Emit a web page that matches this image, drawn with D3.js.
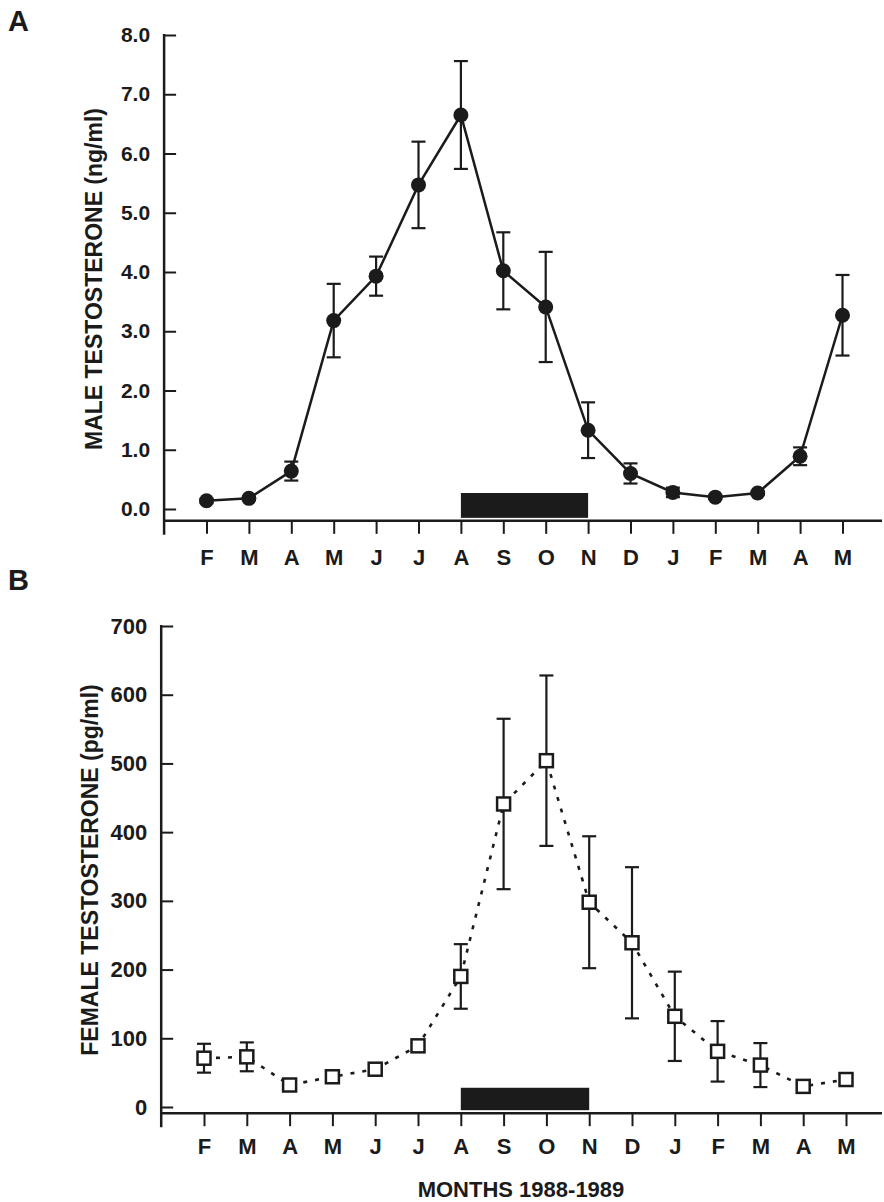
<!DOCTYPE html>
<html>
<head>
<meta charset="utf-8">
<script src="https://cdn.jsdelivr.net/npm/d3@7"></script>
<style>
  body { margin: 0; background: #fff; }
  svg { display: block; }
</style>
</head>
<body>
<div id="chart"></div>
<script>
// months of the study, Feb 1988 - May 1989
const months = ["F","M","A","M","J","J","A","S","O","N","D","J","F","M","A","M"];

// panel A: male testosterone (ng/ml), mean and SE
const maleMean = [0.14, 0.18, 0.64, 3.18, 3.93, 5.47, 6.65, 4.02, 3.41, 1.33, 0.60, 0.28, 0.20, 0.27, 0.89, 3.27];
const maleErr  = [0.03, 0.03, 0.16, 0.62, 0.33, 0.73, 0.91, 0.65, 0.93, 0.47, 0.17, 0.08, 0.03, 0.03, 0.15, 0.68];
const maleTicks = [0, 1, 2, 3, 4, 5, 6, 7, 8];

// panel B: female testosterone (pg/ml), mean and SE
const femaleMean = [71, 73, 32, 44, 55, 89, 190, 441, 504, 298, 239, 132, 81, 61, 30, 40];
const femaleErr  = [21, 21, 5, 5, 5, 6, 47, 124, 124, 96, 110, 65, 44, 32, 5, 5];
const femaleTicks = [0, 100, 200, 300, 400, 500, 600, 700];

// black bar (breeding season) from A to N, and its top in each panel's units
const barMonths = [6, 9];
const maleBarTop = 0.27;
const femaleBarTop = 28;

const ink = "#1b1b1b";
const font = "'Liberation Sans', Arial, sans-serif";

const svg = d3.select("#chart").append("svg")
  .attr("width", 884)
  .attr("height", 1202);

function drawPanel(opt) {
  const g = svg.append("g");
  const x = opt.x, y = opt.y;
  const axisY = y(opt.axisValue);
  const x0 = x(-1);

  // y axis, ticks point inward
  const yAxis = d3.axisLeft(y)
    .tickValues(opt.ticks)
    .tickFormat(opt.fmt)
    .tickSize(-12)
    .tickPadding(14);
  const ya = g.append("g")
    .attr("transform", `translate(${x0},0)`)
    .call(yAxis);
  ya.select(".domain").remove();
  ya.selectAll(".tick line").attr("stroke", ink).attr("stroke-width", 2);
  ya.selectAll(".tick text")
    .attr("fill", ink)
    .attr("font-family", font)
    .attr("font-weight", "bold")
    .attr("font-size", opt.tickFont);

  // x axis with month letters
  const xAxis = d3.axisBottom(x)
    .tickValues(d3.range(months.length))
    .tickFormat(i => months[i])
    .tickSize(13)
    .tickPadding(opt.monthPad);
  const xa = g.append("g")
    .attr("transform", `translate(0,${axisY})`)
    .call(xAxis);
  xa.select(".domain").remove();
  xa.selectAll(".tick line").attr("stroke", ink).attr("stroke-width", 2);
  xa.selectAll(".tick text")
    .attr("fill", ink)
    .attr("font-family", font)
    .attr("font-weight", "bold")
    .attr("font-size", 22);

  // axis lines
  g.append("line")
    .attr("x1", x0).attr("x2", x0)
    .attr("y1", y(opt.ticks[opt.ticks.length - 1]) - 1)
    .attr("y2", axisY + 14)
    .attr("stroke", ink).attr("stroke-width", 2.5);
  g.append("line")
    .attr("x1", x0).attr("x2", 882)
    .attr("y1", axisY).attr("y2", axisY)
    .attr("stroke", ink).attr("stroke-width", 2.5);

  // season bar
  g.append("rect")
    .attr("x", x(barMonths[0]))
    .attr("width", x(barMonths[1]) - x(barMonths[0]))
    .attr("y", y(opt.barTop))
    .attr("height", axisY - 3 - y(opt.barTop))
    .attr("fill", ink);

  // y title
  g.append("text")
    .attr("transform", `translate(${opt.titleX},${opt.titleY}) rotate(-90)`)
    .attr("text-anchor", "middle")
    .attr("font-family", font)
    .attr("font-weight", "bold")
    .attr("font-size", 23)
    .attr("fill", ink)
    .text(opt.title);

  // panel letter
  g.append("text")
    .attr("x", 8).attr("y", opt.letterY)
    .attr("font-family", font)
    .attr("font-weight", "bold")
    .attr("font-size", 29)
    .attr("fill", ink)
    .text(opt.letter);

  const pts = opt.mean.map((m, i) => ({ i, m, e: opt.err[i] }));

  // error bars
  const eb = g.append("g").attr("stroke", ink).attr("stroke-width", 2.2);
  pts.forEach(p => {
    eb.append("line")
      .attr("x1", x(p.i)).attr("x2", x(p.i))
      .attr("y1", y(p.m - p.e)).attr("y2", y(p.m + p.e));
    [p.m - p.e, p.m + p.e].forEach(v => {
      eb.append("line")
        .attr("x1", x(p.i) - 7).attr("x2", x(p.i) + 7)
        .attr("y1", y(v)).attr("y2", y(v));
    });
  });

  // connecting line
  const line = d3.line()
    .x(p => x(p.i))
    .y(p => y(p.m));
  g.append("path")
    .datum(pts)
    .attr("d", line)
    .attr("fill", "none")
    .attr("stroke", ink)
    .attr("stroke-width", opt.lineWidth)
    .attr("stroke-dasharray", opt.dash);

  // markers
  if (opt.marker === "circle") {
    g.selectAll(".pt").data(pts).join("circle")
      .attr("cx", p => x(p.i))
      .attr("cy", p => y(p.m))
      .attr("r", 7.5)
      .attr("fill", ink);
  } else {
    g.selectAll(".pt").data(pts).join("rect")
      .attr("x", p => x(p.i) - 6.5)
      .attr("y", p => y(p.m) - 6.5)
      .attr("width", 13)
      .attr("height", 13)
      .attr("fill", "#fff")
      .attr("stroke", ink)
      .attr("stroke-width", 2.5);
  }
}

drawPanel({
  x: d3.scaleLinear().domain([0, 15]).range([206.5, 842.5]),
  y: d3.scaleLinear().domain([0, 8]).range([509, 35]),
  axisValue: -0.2,
  ticks: maleTicks,
  fmt: d3.format(".1f"),
  tickFont: 21,
  monthPad: 16,
  barTop: maleBarTop,
  title: "MALE TESTOSTERONE (ng/ml)",
  titleX: 102, titleY: 279,
  letter: "A", letterY: 31,
  mean: maleMean, err: maleErr,
  lineWidth: 2.5,
  dash: null,
  marker: "circle"
});

drawPanel({
  x: d3.scaleLinear().domain([0, 15]).range([204, 846]),
  y: d3.scaleLinear().domain([0, 700]).range([1107, 626]),
  axisValue: -9,
  ticks: femaleTicks,
  fmt: d3.format("d"),
  tickFont: 22,
  monthPad: 12,
  barTop: femaleBarTop,
  title: "FEMALE TESTOSTERONE (pg/ml)",
  titleX: 98, titleY: 870,
  letter: "B", letterY: 590,
  mean: femaleMean, err: femaleErr,
  lineWidth: 2.6,
  dash: "4,8",
  marker: "square"
});

// shared x title
svg.append("text")
  .attr("x", 521).attr("y", 1197)
  .attr("text-anchor", "middle")
  .attr("font-family", font)
  .attr("font-weight", "bold")
  .attr("font-size", 22)
  .attr("fill", ink)
  .text("MONTHS 1988-1989");
</script>
</body>
</html>
